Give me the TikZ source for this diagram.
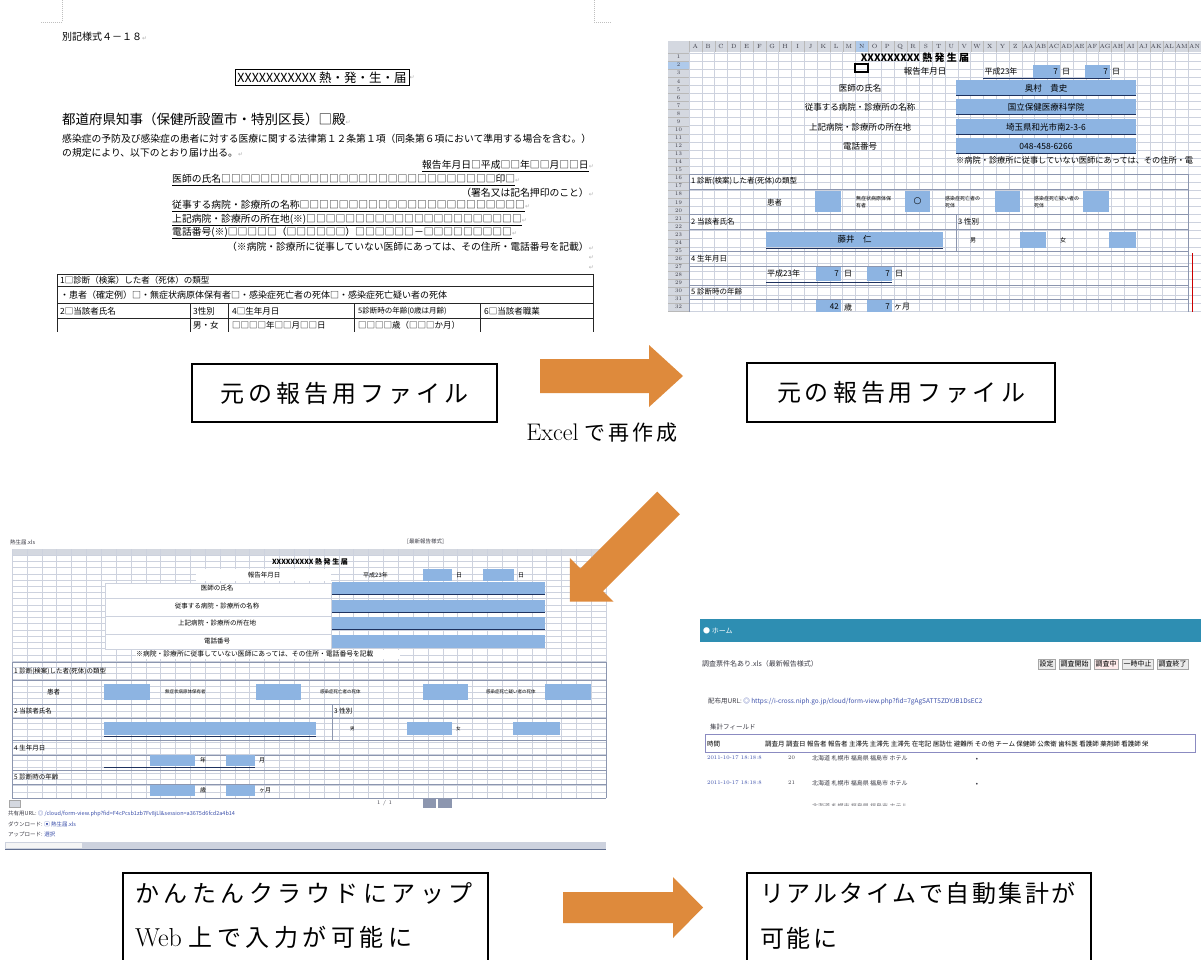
\documentclass[tikz,border=0pt]{standalone}
\usepackage{fontspec}
\newfontfamily\jp{Noto Sans CJK JP}
\newfontfamily\dv{DejaVu Sans}
\definecolor{arrowor}{RGB}{222,138,60}
\definecolor{cellblue}{RGB}{141,180,226}
\definecolor{navyline}{RGB}{30,50,95}
\definecolor{gridc}{RGB}{205,210,222}
\definecolor{gridd}{RGB}{140,150,175}
\definecolor{barteal}{RGB}{46,142,178}
\definecolor{hdrgray}{RGB}{212,216,224}
\definecolor{txtgray}{RGB}{60,60,70}
\definecolor{linkblue}{RGB}{60,80,170}
\newcommand\fsz[1]{\fontsize{#1}{#1}\selectfont}
\newcommand\retm{{\dv\fsz{6}\color{gray!60}↵}}
\newdimen\spk
\def\spx#1{\ifx#1\relax\else#1\kern\spk\expandafter\spx\fi}
\newcommand\spaced[2]{\spk=#1\relax\spx#2\relax\unkern}
\tikzset{
  tl/.style={inner sep=0pt, anchor=west},
  tr/.style={inner sep=0pt, anchor=east},
  tc/.style={inner sep=0pt},
  box/.style={draw=black, line width=1.6pt, fill=white},
  cell/.style={fill=cellblue},
  blockarrow/.style={fill=arrowor},
  tabline/.style={black!85, line width=0.6pt},
  secline/.style={gridd, line width=0.6pt},
  gl/.style={gridc, line width=0.3pt},
  btn/.style={draw=gray!70, fill=gray!15, inner sep=1.5pt, anchor=west, font=\jp\fsz{7}},
}
\begin{document}
\begin{tikzpicture}[x=1pt,y=-1pt]
\useasboundingbox (0,0) rectangle (1201,960);
\clip (0,0) rectangle (1201,960);
\fill[white] (0,0) rectangle (1201,960);

% ================= Screenshot 1 : Word form =================
\draw[gray!50, dash pattern=on 1pt off 1pt] (62,0) -- (62,22) -- (41,22);
\draw[gray!50, dash pattern=on 1pt off 1pt] (594,0) -- (594,22) -- (612,22);
\node[tl, font=\jp\fsz{10}] (s1a) at (62,37) {別記様式４－１８\retm};
\node[draw, line width=0.7pt, inner sep=2.5pt, font=\jp\fsz{12.5}] (s1b) at (322,77.5) {XXXXXXXXXXX 熱・発・生・届};
\node[tl] (s1b2) at (s1b.east) {\retm};
\node[tl, font=\jp\fsz{13.5}] (s1c) at (62,119) {都道府県知事（保健所設置市・特別区長）□殿\retm};
\node[tl, font=\jp\fsz{9.8}] (s1d) at (62,139) {感染症の予防及び感染症の患者に対する医療に関する法律第１２条第１項（同条第６項において準用する場合を含む。）};
\node[tl, font=\jp\fsz{9.8}] (s1e) at (62,153) {の規定により、以下のとおり届け出る。\retm};
\node[tr, font=\jp\fsz{9.8}] (s1f) at (594,166) {\underline{報告年月日□平成□□年□□月□□日}\retm};
\node[tl, font=\jp\fsz{9.8}] (s1g) at (172,180) {\underline{医師の氏名□□□□□□□□□□□□□□□□□□□□□□□□□□□□印□}\retm};
\node[tr, font=\jp\fsz{9.8}] (s1h) at (594,193) {（署名又は記名押印のこと）\retm};
\node[tl, font=\jp\fsz{9.8}] (s1i) at (172,206) {\underline{従事する病院・診療所の名称□□□□□□□□□□□□□□□□□□□□□□□}\retm};
\node[tl, font=\jp\fsz{9.8}] (s1j) at (172,220) {\underline{上記病院・診療所の所在地(※)□□□□□□□□□□□□□□□□□□□□□□}\retm};
\node[tl, font=\jp\fsz{9.8}] (s1k) at (172,233) {\underline{電話番号(※)□□□□□（□□□□□□）□□□□□□－□□□□□□□□□}\retm};
\node[tr, font=\jp\fsz{9.8}] (s1l) at (594,247) {（※病院・診療所に従事していない医師にあっては、その住所・電話番号を記載）\retm};
\node[tr] (s1r1) at (594,258) {\retm};
\node[tr] (s1r2) at (594,268) {\retm};
% table
\foreach \yy in {274,286,303,318} \draw[tabline] (57,\yy) -- (593,\yy);
\draw[tabline] (57,274) -- (57,332);
\draw[tabline] (593,274) -- (593,332);
\foreach \xx in {190,228,354,480} \draw[tabline] (\xx,303) -- (\xx,332);
\node[tl, font=\jp\fsz{8.5}] (s1m) at (60,280) {1□診断（検案）した者（死体）の類型};
\node[tl, font=\jp\fsz{9}] (s1n) at (60,295) {・患者（確定例）□・無症状病原体保有者□・感染症死亡者の死体□・感染症死亡疑い者の死体};
\node[tl, font=\jp\fsz{8.5}] (s1o) at (60,311) {2□当該者氏名};
\node[tl, font=\jp\fsz{8.5}] (s1p) at (193,311) {3性別};
\node[tl, font=\jp\fsz{8.5}] (s1q) at (232,311) {4□生年月日};
\node[tl, font=\jp\fsz{7.5}] (s1s5) at (358,311) {5診断時の年齢(0歳は月齢)};
\node[tl, font=\jp\fsz{8.5}] (s1s6) at (484,311) {6□当該者職業};
\node[tl, font=\jp\fsz{8.5}] (s1t) at (193,325) {男・女};
\node[tl, font=\jp\fsz{8.5}] (s1u) at (232,325) {□□□□年□□月□□日};
\node[tl, font=\jp\fsz{8.5}] (s1v) at (358,325) {□□□□歳（□□□か月）};

% ================= Screenshot 2 : Excel =================
\fill[hdrgray] (668,41) rectangle (1201,52);
\fill[hdrgray] (668,52) rectangle (689,312);
\fill[cellblue!70] (855.4,41) rectangle (868.2,52);
\fill[cellblue!70] (668,61.07) rectangle (689,69.14);
\foreach \i in {0,...,40} \draw[gl] ({689+\i*12.8},52) -- ({689+\i*12.8},312);
\foreach \j in {0,...,32} \draw[gl] (689,{53+\j*8.07}) -- (1201,{53+\j*8.07});
\foreach \i in {0,...,40} \draw[gray!55, line width=0.2pt] ({689+\i*12.8},41) -- ({689+\i*12.8},52);
\foreach \j in {0,...,32} \draw[gray!55, line width=0.2pt] (668,{53+\j*8.07}) -- (689,{53+\j*8.07});
\foreach \c [count=\i] in {A,B,C,D,E,F,G,H,I,J,K,L,M,N,O,P,Q,R,S,T,U,V,W,X,Y,Z,AA,AB,AC,AD,AE,AF,AG,AH,AI,AJ,AK,AL,AM,AN}
  \node[tc, font=\fsz{6}, text=txtgray] (s2c\i) at ({689+(\i-0.5)*12.8},46.5) {\c};
\foreach \j in {1,...,32}
  \node[tc, font=\fsz{5.5}, text=txtgray] (s2r\j) at (678.5,{53+(\j-0.5)*8.07}) {\j};
\node[tc, font=\jp\bfseries\fsz{10}] (s2t) at (915,58) {XXXXXXXXX 熱 発 生 届};
\draw[line width=1.3pt] (855,64) rectangle (868,72);
\node[tc, font=\jp\fsz{8.5}] (s2a) at (925,71.5) {報告年月日};
\node[tc, font=\jp\fsz{8}] (s2b) at (1001,71.5) {平成23年};
\fill[cellblue] (1033,65) rectangle (1060,78);
\fill[cellblue] (1085,65) rectangle (1110,78);
\node[tr, font=\jp\fsz{8}] (s2b1) at (1058,71.5) {7};
\node[tl, font=\jp\fsz{8}] (s2b2) at (1062,71.5) {日};
\node[tr, font=\jp\fsz{8}] (s2b3) at (1108,71.5) {7};
\node[tl, font=\jp\fsz{8}] (s2b4) at (1112,71.5) {日};
\draw[navyline, line width=1pt] (983,79) -- (1110,79);
\foreach \yy/\lab/\val [count=\k] in {80/{医師の氏名}/{奥村　貴史}, 99.5/{従事する病院・診療所の名称}/{国立保健医療科学院}, 119/{上記病院・診療所の所在地}/{埼玉県和光市南2-3-6}, 138/{電話番号}/{048-458-6266}} {
  \fill[cellblue] (956,\yy) rectangle (1136,\yy+15);
  \draw[navyline, line width=1pt] (956,\yy+15.5) -- (1136,\yy+15.5);
  \node[tc, font=\jp\fsz{8.5}] (s2l\k) at (860,\yy+8) {\lab};
  \node[tc, font=\jp\fsz{8.5}] (s2v\k) at (1046,\yy+8) {\val};
}
\node[tl, font=\jp\fsz{8.2}] (s2n) at (956,160) {※病院・診療所に従事していない医師にあっては、その住所・電};
\draw[secline] (689,312) -- (689,174) -- (1188,174) -- (1188,312);
\foreach \yy in {189,214,229,251,266,285,299} \draw[secline] (689,\yy) -- (1188,\yy);
\draw[secline] (956,214) -- (956,251);
\node[tl, font=\jp\fsz{7.5}] (s2s1) at (691,181.5) {1 診断(検案)した者(死体)の類型};
\node[tl, font=\jp\fsz{7.5}] (s2p) at (767,203) {患者};
\fill[cellblue] (815,191) rectangle (841,212);
\fill[cellblue] (905,191) rectangle (930,212);
\fill[cellblue] (995,191) rectangle (1020,212);
\fill[cellblue] (1083,191) rectangle (1109,212);
\node[tc, font=\dv\fsz{9}] (s2o) at (917.5,201.5) {○};
\node[tl, font=\jp\fontsize{5}{6.5}\selectfont, align=left] (s2q1) at (856,202) {無症状病原体保\\有者};
\node[tl, font=\jp\fontsize{5}{6.5}\selectfont, align=left] (s2q2) at (945,202) {感染症死亡者の\\死体};
\node[tl, font=\jp\fontsize{5}{6.5}\selectfont, align=left] (s2q3) at (1034,202) {感染症死亡疑い者の\\死体};
\node[tl, font=\jp\fsz{7.5}] (s2s2) at (691,222) {2 当該者氏名};
\node[tl, font=\jp\fsz{7.5}] (s2s3) at (958,222) {3 性別};
\fill[cellblue] (766,232) rectangle (943,247);
\draw[navyline, line width=1pt] (766,248) -- (943,248);
\node[tc, font=\jp\fsz{8.5}] (s2nm) at (854.5,239.5) {藤井　仁};
\node[tl, font=\jp\fsz{6}] (s2m) at (970,240) {男};
\fill[cellblue] (1020,232) rectangle (1046,248);
\node[tl, font=\jp\fsz{6}] (s2f) at (1060,240) {女};
\fill[cellblue] (1109,232) rectangle (1136,248);
\node[tl, font=\jp\fsz{7.5}] (s2s4) at (691,259) {4 生年月日};
\node[tl, font=\jp\fsz{8}] (s2y) at (767,273.5) {平成23年};
\fill[cellblue] (816,267) rectangle (841,281);
\fill[cellblue] (867,267) rectangle (892,281);
\node[tr, font=\jp\fsz{8}] (s2y1) at (839,274) {7};
\node[tl, font=\jp\fsz{8}] (s2y2) at (844,274) {日};
\node[tr, font=\jp\fsz{8}] (s2y3) at (890,274) {7};
\node[tl, font=\jp\fsz{8}] (s2y4) at (895,274) {日};
\draw[navyline, line width=1pt] (766,282) -- (892,282);
\node[tl, font=\jp\fsz{7.5}] (s2s5) at (691,292) {5 診断時の年齢};
\fill[cellblue] (816,300) rectangle (841,312);
\fill[cellblue] (867,300) rectangle (892,312);
\node[tr, font=\jp\fsz{8}] (s2g1) at (839,307) {42};
\node[tl, font=\jp\fsz{8}] (s2g2) at (844,307) {歳};
\node[tr, font=\jp\fsz{8}] (s2g3) at (890,307) {7};
\node[tl, font=\jp\fsz{8}] (s2g4) at (894,307) {ヶ月};
\draw[red!80!black, line width=1pt] (1192,253) -- (1192,312);

% ================= Screenshot 3 : cloud web form =================
\node[tl, font=\jp\fsz{5.5}, text=txtgray] (s3f) at (10,542) {熱生届.xls};
\node[tl, font=\jp\fsz{5.5}, text=txtgray] (s3g) at (407,542) {[最新報告様式]};
\fill[hdrgray] (12,549) rectangle (606,555);
\foreach \i in {0,...,40} \draw[gl] ({12+\i*14.85},549) -- ({12+\i*14.85},798);
\foreach \j in {0,...,39} \draw[gl] (12,{555+\j*6.23}) -- (606,{555+\j*6.23});
\fill[white] (196,569) rectangle (331,581);
\fill[white] (105,583) rectangle (331,649);
\fill[white] (136,650) rectangle (400,659);
\draw[gl] (105,583) rectangle (331,649);
\foreach \yy in {598,616,634} \draw[gl] (105,\yy) -- (331,\yy);
\node[tc, font=\jp\bfseries\fsz{7}] (s3t) at (310,562) {XXXXXXXXX 熱 発 生 届};
\node[tc, font=\jp\fsz{6.5}] (s3a) at (264,575) {報告年月日};
\node[tl, font=\jp\fsz{6}] (s3b) at (363,575) {平成23年};
\fill[cellblue] (423,569) rectangle (452,581);
\fill[cellblue] (483,569) rectangle (514,581);
\node[tl, font=\jp\fsz{6}] (s3b1) at (456,575) {日};
\node[tl, font=\jp\fsz{6}] (s3b2) at (518,575) {日};
\draw[navyline, line width=0.9pt] (363,582) -- (514,582);
\foreach \yy/\lab [count=\k] in {582/{医師の氏名}, 599.5/{従事する病院・診療所の名称}, 617/{上記病院・診療所の所在地}, 635/{電話番号}} {
  \fill[cellblue] (332,\yy) rectangle (545,\yy+12.5);
  \node[tc, font=\jp\fsz{6.5}] (s3l\k) at (217,\yy+6.5) {\lab};
}
\foreach \yy in {594.5,612,629.5} \draw[navyline, line width=0.9pt] (332,\yy) -- (545,\yy);
\node[tl, font=\jp\fsz{6.8}] (s3n) at (136,654) {※病院・診療所に従事していない医師にあっては、その住所・電話番号を記載};
\foreach \yy in {662,680,704,718,740,755,770,784,798} \draw[secline] (12,\yy) -- (606,\yy);
\draw[secline] (12,662) -- (12,798);
\draw[secline] (606,662) -- (606,798);
\draw[secline] (332,704) -- (332,740);
\node[tl, font=\jp\fsz{6.5}] (s3s1) at (14,671) {1 診断(検案)した者(死体)の類型};
\node[tl, font=\jp\fsz{6.5}] (s3p) at (47,692) {患者};
\fill[cellblue] (104,684) rectangle (150,700);
\fill[cellblue] (256,684) rectangle (301,700);
\fill[cellblue] (423,684) rectangle (468,700);
\fill[cellblue] (545,684) rectangle (591,700);
\node[tl, font=\jp\fsz{4.5}] (s3q1) at (165,692) {無症状病原体保有者};
\node[tl, font=\jp\fsz{4.5}] (s3q2) at (320,692) {感染症死亡者の死体};
\node[tl, font=\jp\fsz{4.5}] (s3q3) at (486,692) {感染症死亡疑い者の死体};
\node[tl, font=\jp\fsz{6.5}] (s3s2) at (14,711) {2 当該者氏名};
\node[tl, font=\jp\fsz{6.5}] (s3s3) at (334,711) {3 性別};
\fill[cellblue] (104,722) rectangle (316,735);
\draw[navyline, line width=0.9pt] (104,736) -- (316,736);
\node[tl, font=\jp\fsz{4.5}] (s3m) at (350,729) {男};
\fill[cellblue] (407,722) rectangle (452,735);
\node[tl, font=\jp\fsz{4.5}] (s3w) at (456,729) {女};
\fill[cellblue] (513,722) rectangle (560,735);
\node[tl, font=\jp\fsz{6.5}] (s3s4) at (14,748) {4 生年月日};
\fill[cellblue] (150,755) rectangle (195,766);
\fill[cellblue] (226,755) rectangle (255,766);
\node[tl, font=\jp\fsz{6}] (s3y1) at (200,760.5) {年};
\node[tl, font=\jp\fsz{6}] (s3y2) at (259,760.5) {月};
\draw[navyline, line width=0.9pt] (104,767) -- (255,767);
\node[tl, font=\jp\fsz{6.5}] (s3s5) at (14,777) {5 診断時の年齢};
\fill[cellblue] (150,785) rectangle (195,796);
\fill[cellblue] (226,785) rectangle (255,796);
\node[tl, font=\jp\fsz{6}] (s3g1) at (200,790.5) {歳};
\node[tl, font=\jp\fsz{6}] (s3g2) at (259,790.5) {ヶ月};
\draw[gray!70, fill=hdrgray] (9,800) rectangle (20,807);
\node[tl, font=\fsz{5.5}, text=txtgray] (s3pg) at (377,803.5) {1 / 1};
\fill[gridd] (423,799) rectangle (436,808);
\fill[gridd] (438,799) rectangle (452,808);
\node[tl, font=\jp\fsz{5.5}, text=txtgray] (s3u) at (8,813.5) {共有用URL: {\color{linkblue}◎ /cloud/form-view.php?fid=F4cPcsb1zb7Fv8jLl\&session=a3675d6fcd2a4b14}};
\node[tl, font=\jp\fsz{5.5}, text=txtgray] (s3d) at (8,824) {ダウンロード: {\color{linkblue}▣ 熱生届.xls}};
\node[tl, font=\jp\fsz{5.5}, text=txtgray] (s3up) at (8,834) {アップロード: {\color{linkblue}選択}};
\fill[gridc] (5,842) rectangle (606,849);
\fill[gray!8] (6,843) rectangle (82,848);
\draw[navyline!70, line width=0.8pt] (5,849) -- (606,849);

% ================= Screenshot 4 : aggregation =================
\fill[barteal] (700,619) rectangle (1201,642);
\node[tl, font=\jp\fsz{7}, text=white] (s4h) at (703,630.5) {● ホーム};
\node[tl, font=\jp\fsz{7}, text=txtgray] (s4t) at (702,664) {調査票件名あり.xls（最新報告様式）};
\node[btn] (bt1) at (1038,664) {設定};
\node[btn] (bt2) at (1059,664) {調査開始};
\node[btn, fill=red!8] (bt3) at (1094,664) {調査中};
\node[btn] (bt4) at (1122,664) {一時中止};
\node[btn] (bt5) at (1157,664) {調査終了};
\node[tl, font=\jp\fsz{6.5}, text=txtgray] (s4u) at (708,702) {配布用URL: {\color{linkblue}◎ https://i-cross.niph.go.jp/cloud/form-view.php?fid=7gAgSATT5ZDYJB1DsEC2}};
\node[tl, font=\jp\fsz{6.5}, text=txtgray] (s4f) at (710,727) {集計フィールド};
\draw[blue!30!gray!70, line width=0.7pt] (705,734) rectangle (1195,752);
\node[tl, font=\jp\fsz{6.5}] (s4c1) at (707,744) {時間};
\node[tl, font=\jp\fsz{6.5}] (s4c2) at (765,744) {調査月\ 調査日\ 報告者\ 報告者\ 主滞先\ 主滞先\ 主滞先\ 在宅記\ 居訪仕\ 避難所\ その他\ チーム\ 保健師\ 公衆衛\ 歯科医\ 看護師\ 薬剤師\ 看護師\ 栄};
\foreach \yy/\nn [count=\k] in {758/20, 783/21} {
  \node[tl, font=\fsz{5.5}, text=linkblue] (s4d\k) at (707,\yy) {2011-10-17 18:18:8};
  \node[tl, font=\fsz{5.5}, text=txtgray] (s4n\k) at (788,\yy) {\nn};
  \node[tl, font=\jp\fsz{6}, text=txtgray] (s4p\k) at (812,\yy) {北海道 札幌市 福島県 福島市 ホテル};
  \node[tc, font=\fsz{6}, text=txtgray] (s4b\k) at (977,\yy+1) {•};
}
\begin{scope}
\clip (700,790) rectangle (1201,805);
\node[tl, font=\jp\fsz{6}, text=txtgray!70] (s4p3) at (812,806) {北海道 札幌市 福島県 福島市 ホテル};
\end{scope}

% ================= Text boxes =================
\node[box, minimum width=305pt, minimum height=58pt, font=\jp\fsz{24}] (b1) at (344.5,393) {\spaced{4pt}{元の報告用ファイル}};
\node[box, minimum width=308pt, minimum height=59pt, font=\jp\fsz{24}] (b2) at (901,392.5) {\spaced{4pt}{元の報告用ファイル}};
\node[tc] (ex) at (602,433) {{\fsz{24}Excel}\hspace{6pt}{\jp\fsz{21}\spaced{3pt}{で再作成}}};
\node[box, minimum width=365pt, minimum height=110pt, anchor=north west, inner sep=0pt] (b3) at (122,872) {};
\node[tl, font=\jp\fsz{24}] (b3a) at (135,893) {\spaced{4.5pt}{かんたんクラウドにアップ}};
\node[tl, font=\jp\fsz{24}] (b3b) at (135,937) {{\rmfamily\fsz{26}Web}\hspace{7pt}\spaced{4.5pt}{上で入力が可能に}};
\node[box, minimum width=344pt, minimum height=110pt, anchor=north west, inner sep=0pt] (b4) at (746,872) {};
\node[tl, font=\jp\fsz{24}] (b4a) at (760,893) {\spaced{2.5pt}{リアルタイムで自動集計が}};
\node[tl, font=\jp\fsz{24}] (b4b) at (760,938) {\spaced{2.5pt}{可能に}};

% ================= Block arrows =================
\fill[blockarrow] (540,359) -- (649,359) -- (649,345) -- (683,376) -- (649,407) -- (649,393) -- (540,393) -- cycle;
\fill[blockarrow] (657.2,491.7) -- (679.8,514.3) -- (603.0,591.1) -- (613.6,601.7) -- (569.8,601.7) -- (569.8,557.9) -- (580.4,568.5) -- cycle;
\fill[blockarrow] (563,892) -- (673,892) -- (673,877) -- (703,907.5) -- (673,938) -- (673,923) -- (563,923) -- cycle;
\end{tikzpicture}
\end{document}
